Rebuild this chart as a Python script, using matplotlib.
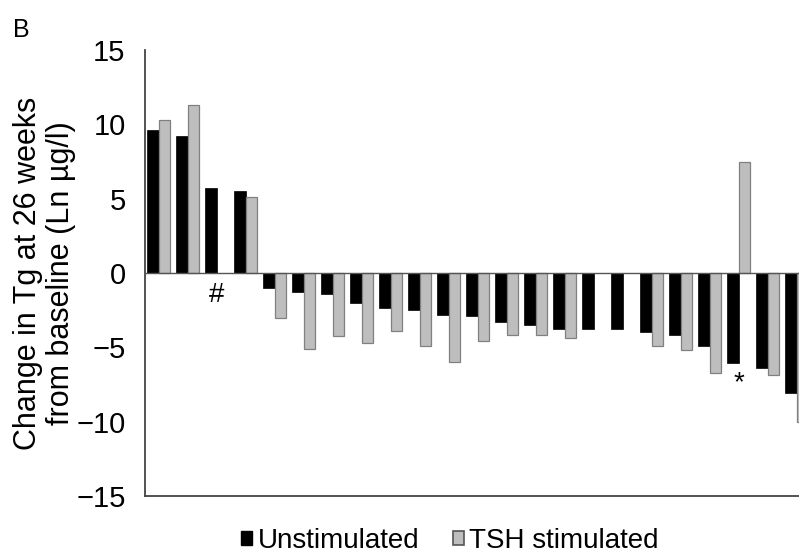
import numpy as np
import matplotlib.pyplot as plt
from matplotlib.patches import Patch

plt.rcParams['font.family'] = ['Liberation Sans', 'DejaVu Sans']

# change in Tg at 26 weeks, one pair per patient
unstimulated = [9.6, 9.2, 5.7, 5.5, -1.0, -1.3, -1.4, -2.0, -2.35, -2.5, -2.8, -2.9,
                -3.3, -3.5, -3.75, -3.75, -3.8, -4.0, -4.2, -4.9, -6.05, -6.4, -8.05]
tsh_stimulated = [10.3, 11.3, np.nan, 5.1, -3.0, -5.1, -4.25, -4.7, -3.9, -4.9, -6.0, -4.6,
                  -4.2, -4.2, -4.35, np.nan, np.nan, -4.9, -5.15, -6.7, 7.5, -6.85, -10.0]
marks = {2: '#', 20: '*'}
mark_y = {2: -1.5, 20: -7.4}
yticks = [15, 10, 5, 0, -5, -10, -15]

fig = plt.figure(figsize=(7.99, 5.55), dpi=100)
ax = fig.add_axes([145 / 799, 1 - 496 / 555, 1 - 145 / 799, (496 - 50) / 555])

x = np.arange(len(unstimulated))
w = 0.4
ax.bar(x - w / 2, unstimulated, width=w, color='black', edgecolor='black', linewidth=0.5, zorder=2)
ax.bar(x + w / 2, tsh_stimulated, width=w, color='#bebebe', edgecolor='#808080', linewidth=0.9, zorder=2)
ax.axhline(0, color='#555555', lw=1.0, zorder=3)

for i, s in marks.items():
    ax.text(i, mark_y[i], s, ha='center', va='center', fontsize=20)

ax.set_xlim(-0.47, 22.08)
ax.set_ylim(-15, 15)
ax.set_yticks(yticks)
ax.set_yticklabels([f'{v}'.replace('-', '\u2212') for v in yticks])
ax.set_xticks([])
ax.tick_params(axis='y', length=0, pad=14, labelsize=21)
for side in ['top', 'right']:
    ax.spines[side].set_visible(False)
for side in ['left', 'bottom']:
    ax.spines[side].set_color('#444444')
    ax.spines[side].set_linewidth(1.3)

ax.set_ylabel('Change in Tg at 26 weeks\nfrom baseline (Ln \u00b5g/l)', fontsize=22,
              linespacing=1.15)
ax.yaxis.set_label_coords((76 - 145) / 654, 0.5)

fig.text(13 / 799, 1 - 37 / 555, 'B', fontsize=18)

handles = [Patch(facecolor='black', edgecolor='black'),
           Patch(facecolor='#bebebe', edgecolor='#555555', linewidth=1.2)]
fig.legend(handles, ['Unstimulated', 'TSH stimulated'], loc='center',
           bbox_to_anchor=(450 / 799, 1 - 541 / 555), ncol=2, frameon=False, fontsize=20,
           handlelength=0.4, handleheight=0.4, handletextpad=0.2, columnspacing=1.2)

fig.savefig('out.png', dpi=100)
